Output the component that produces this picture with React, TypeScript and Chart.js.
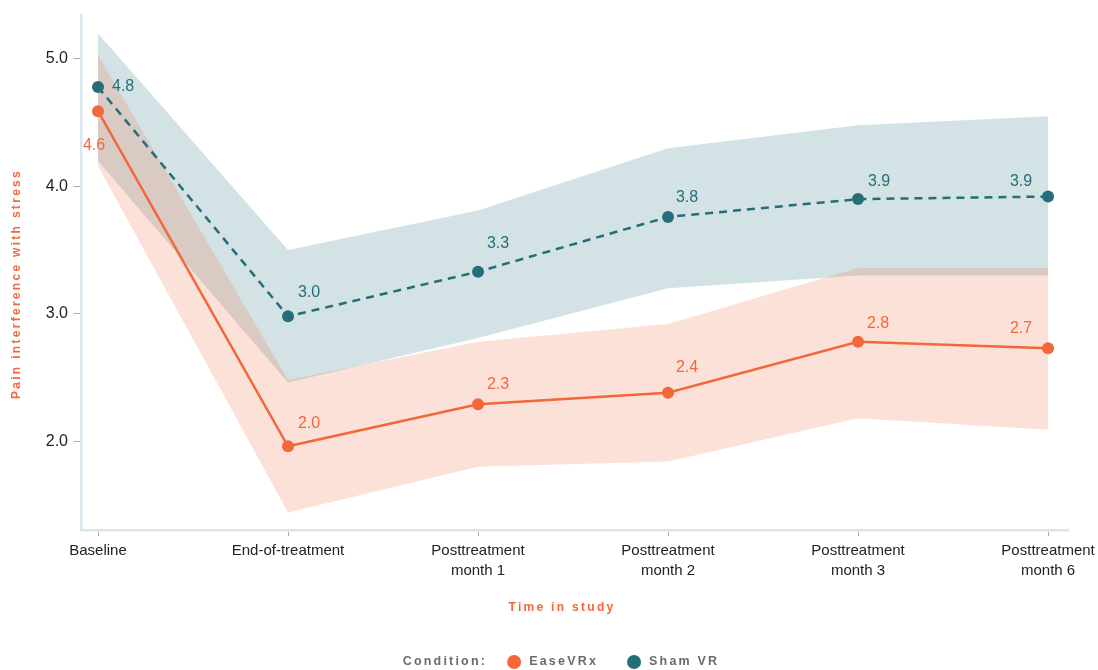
import React, { useEffect, useRef } from 'react';
import { Chart, registerables } from 'chart.js';

Chart.register(...registerables);

// ---------- data ----------
const xTickLabels: string[][] = [
  ['Baseline'],
  ['End-of-treatment'],
  ['Posttreatment', 'month 1'],
  ['Posttreatment', 'month 2'],
  ['Posttreatment', 'month 3'],
  ['Posttreatment', 'month 6'],
];

const easeVRx = [4.59, 1.96, 2.29, 2.38, 2.78, 2.73];
const easeVRxUpper = [5.03, 2.48, 2.78, 2.92, 3.36, 3.36];
const easeVRxLower = [4.16, 1.44, 1.8, 1.84, 2.18, 2.09];

const shamVR = [4.78, 2.98, 3.33, 3.76, 3.9, 3.92];
const shamVRUpper = [5.2, 3.5, 3.81, 4.3, 4.48, 4.55];
const shamVRLower = [4.2, 2.46, 2.81, 3.2, 3.3, 3.3];

const yTicks = [2, 3, 4, 5];

const seriesNames = ['EaseVRx', 'Sham VR'];
const legendTitle = 'Condition:';
const xTitle = 'Time in study';
const yTitle = 'Pain interference with stress';

// ---------- style ----------
const FONT = '"Liberation Sans", Arial, Helvetica, sans-serif';
const ORANGE = 'rgb(242,104,58)';
const ORANGE_BAND = 'rgba(242,104,58,0.2)';
const TEAL = 'rgb(36,110,122)';
const TEAL_BAND = 'rgba(36,110,122,0.2)';
const AXIS = '#d9e6ed';

// label offsets (dx, dy, align) per point
const shamLabelPos: [number, number, CanvasTextAlign][] = [
  [14, 0, 'left'], [21, -24, 'center'], [20, -28, 'center'], [19, -19, 'center'], [21, -18, 'center'], [-27, -15, 'center'],
];
const easeLabelPos: [number, number, CanvasTextAlign][] = [
  [-4, 34, 'center'], [21, -23, 'center'], [20, -20, 'center'], [19, -25, 'center'], [20, -18, 'center'], [-27, -20, 'center'],
];

const toXY = (arr: number[]) => arr.map((v, i) => ({ x: i, y: v }));

const overlayPlugin = {
  id: 'overlay',
  afterDatasetsDraw(chart: any) {
    const ctx: CanvasRenderingContext2D = chart.ctx;
    ctx.save();
    ctx.font = `16px ${FONT}`;
    ctx.textBaseline = 'middle';
    const draw = (dsIndex: number, vals: number[], color: string, pos: [number, number, CanvasTextAlign][]) => {
      const meta = chart.getDatasetMeta(dsIndex);
      ctx.fillStyle = color;
      meta.data.forEach((pt: any, i: number) => {
        const [dx, dy, align] = pos[i];
        ctx.textAlign = align;
        ctx.fillText(vals[i].toFixed(1), pt.x + dx, pt.y + dy);
      });
    };
    draw(4, shamVR, TEAL, shamLabelPos);
    draw(5, easeVRx, ORANGE, easeLabelPos);
    ctx.restore();
  },
  afterDraw(chart: any) {
    const ctx: any = chart.ctx;
    ctx.save();
    // axis titles
    ctx.font = `bold 12px ${FONT}`;
    ctx.letterSpacing = '2.3px';
    ctx.fillStyle = ORANGE;
    ctx.textAlign = 'center';
    ctx.textBaseline = 'middle';
    ctx.fillText(xTitle, 562, 608);
    ctx.save();
    ctx.translate(17, 284);
    ctx.rotate(-Math.PI / 2);
    ctx.fillText(yTitle, 0, 0);
    ctx.restore();

    // legend
    const ly = 662;
    ctx.textAlign = 'left';
    ctx.font = `bold 12.5px ${FONT}`;
    ctx.fillStyle = '#6b6b6b';
    ctx.letterSpacing = '2.2px';
    const wTitle = ctx.measureText(legendTitle).width;
    const w1 = ctx.measureText(seriesNames[0]).width;
    const w2 = ctx.measureText(seriesNames[1]).width;
    const total = wTitle + 20 + 22 + w1 + 29 + 22 + w2;
    let x = 561 - total / 2;
    ctx.fillText(legendTitle, x, ly);
    x += wTitle + 20;
    ctx.fillStyle = ORANGE;
    ctx.beginPath();
    ctx.arc(x + 7, ly, 7, 0, Math.PI * 2);
    ctx.fill();
    x += 22;
    ctx.fillStyle = '#6b6b6b';
    ctx.fillText(seriesNames[0], x, ly);
    x += w1 + 29;
    ctx.fillStyle = TEAL;
    ctx.beginPath();
    ctx.arc(x + 7, ly, 7, 0, Math.PI * 2);
    ctx.fill();
    x += 22;
    ctx.fillStyle = '#6b6b6b';
    ctx.fillText(seriesNames[1], x, ly);
    ctx.restore();
  },
};

export default function App() {
  const ref = useRef<HTMLCanvasElement | null>(null);

  useEffect(() => {
    if (!ref.current) return;
    const chart = new Chart(ref.current, {
      type: 'line',
      data: {
        datasets: [
          {
            label: 'shamUpper',
            data: toXY(shamVRUpper),
            fill: '+1',
            backgroundColor: TEAL_BAND,
            borderWidth: 0,
            pointRadius: 0,
            order: 3,
          },
          {
            label: 'shamLower',
            data: toXY(shamVRLower),
            fill: false,
            borderWidth: 0,
            pointRadius: 0,
            order: 3,
          },
          {
            label: 'easeUpper',
            data: toXY(easeVRxUpper),
            fill: '+1',
            backgroundColor: ORANGE_BAND,
            borderWidth: 0,
            pointRadius: 0,
            order: 2,
          },
          {
            label: 'easeLower',
            data: toXY(easeVRxLower),
            fill: false,
            borderWidth: 0,
            pointRadius: 0,
            order: 2,
          },
          {
            label: seriesNames[1],
            data: toXY(shamVR),
            borderColor: TEAL,
            backgroundColor: TEAL,
            borderWidth: 2.5,
            borderDash: [8, 6],
            pointRadius: 6,
            pointBorderWidth: 0,
            pointBackgroundColor: TEAL,
            fill: false,
            order: 1,
          },
          {
            label: seriesNames[0],
            data: toXY(easeVRx),
            borderColor: ORANGE,
            backgroundColor: ORANGE,
            borderWidth: 2.5,
            pointRadius: 6,
            pointBorderWidth: 0,
            pointBackgroundColor: ORANGE,
            fill: false,
            order: 0,
          },
        ],
      },
      options: {
        responsive: false,
        animation: false,
        layout: { padding: { left: 0, right: 30, top: 15, bottom: 0 } },
        plugins: {
          legend: { display: false },
          tooltip: { enabled: false },
        },
        scales: {
          x: {
            type: 'linear',
            min: -0.0895,
            max: 5.105,
            afterFit: (s: any) => {
              s.height = 140;
              s.paddingLeft = 0;
              s.paddingRight = 0;
            },
            ticks: {
              stepSize: 1,
              includeBounds: false,
              autoSkip: false,
              maxRotation: 0,
              padding: 5,
              color: '#222',
              font: { family: FONT, size: 15, lineHeight: 1.33 },
              callback: (v: any) => {
                const i = Number(v);
                return Number.isInteger(i) && xTickLabels[i] ? xTickLabels[i] : '';
              },
            },
            grid: {
              display: true,
              drawOnChartArea: false,
              drawTicks: true,
              tickLength: 6,
              tickColor: '#aaa',
            },
            border: { display: true, color: AXIS, width: 2.5 },
          },
          y: {
            type: 'linear',
            min: 1.303,
            max: 5.345,
            afterFit: (s: any) => {
              s.width = 81;
              s.paddingTop = 0;
              s.paddingBottom = 0;
            },
            afterBuildTicks: (s: any) => {
              s.ticks = yTicks.map((v) => ({ value: v }));
            },
            ticks: {
              padding: 6,
              color: '#222',
              font: { family: FONT, size: 16 },
              callback: (v: any) => Number(v).toFixed(1),
            },
            grid: {
              display: true,
              drawOnChartArea: false,
              drawTicks: true,
              tickLength: 7,
              tickColor: '#aaa',
            },
            border: { display: true, color: AXIS, width: 2.5 },
          },
        },
      },
      plugins: [overlayPlugin],
    } as any);
    return () => chart.destroy();
  }, []);

  return (
    <div style={{ position: 'absolute', left: 0, top: 0, width: 1098, height: 670 }}>
      <canvas ref={ref} width={1098} height={670} style={{ display: 'block', width: 1098, height: 670 }} />
    </div>
  );
}
